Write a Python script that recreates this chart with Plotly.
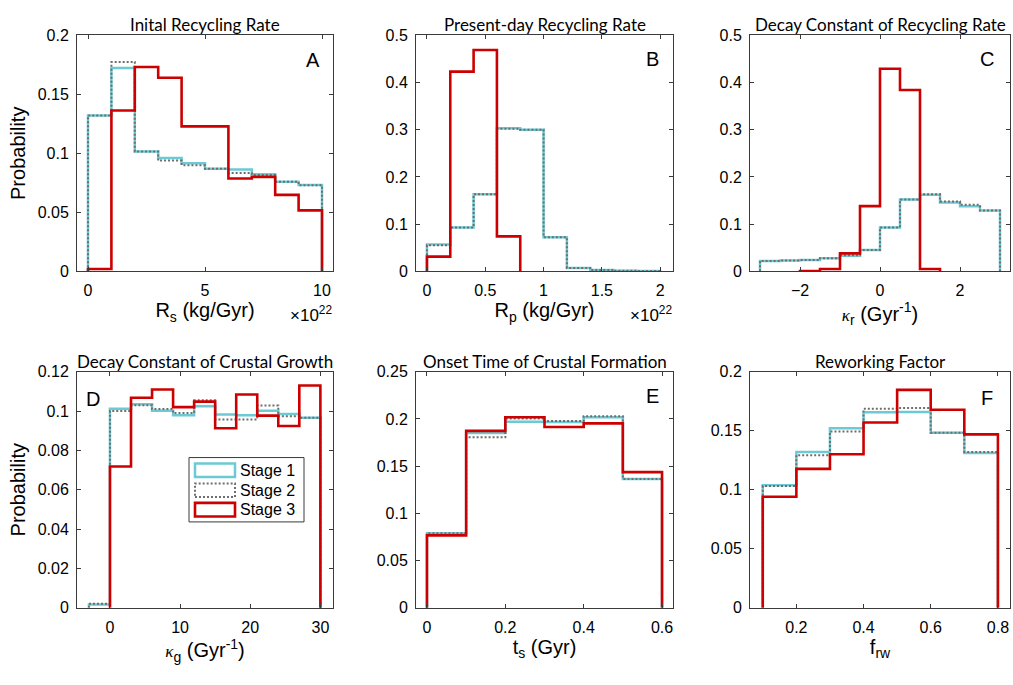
import plotly.graph_objects as go

W, H = 1013, 685

stage_names = ["Stage 1", "Stage 2", "Stage 3"]
stage_colors = ["#6BCAD4", "#6E6E6E", "#CC0000"]

panel_letters = ["A", "B", "C", "D", "E", "F"]
panel_titles = [
    "Inital Recycling Rate",
    "Present-day Recycling Rate",
    "Decay Constant of Recycling Rate",
    "Decay Constant of Crustal Growth",
    "Onset Time of Crustal Formation",
    "Reworking Factor",
]
KAPPA = '<span style="font-family:Liberation Serif;font-size:17px"><i>κ</i></span>'
x_titles = [
    "R<sub>s</sub> (kg/Gyr)",
    "R<sub>p</sub> (kg/Gyr)",
    KAPPA + "<sub>r</sub> (Gyr<sup>-1</sup>)",
    KAPPA + "<sub>g</sub> (Gyr<sup>-1</sup>)",
    "t<sub>s</sub> (Gyr)",
    "f<sub>rw</sub>",
]
y_title = "Probability"
exp_label = "×10<sup>22</sup>"

# ---- Panel A: initial recycling rate (bin edges in units of 1e22 kg/Gyr)
a_edges = [0, 1, 2, 3, 4, 5, 6, 7, 8, 9, 10]
a_s1 = [0.132, 0.1724, 0.1015, 0.096, 0.0916, 0.0869, 0.0863, 0.0822, 0.0759, 0.0731]
a_s2 = [0.132, 0.1774, 0.1015, 0.0938, 0.0899, 0.087, 0.0833, 0.0817, 0.076, 0.073]
a_s3 = [0.002, 0.1363, 0.1732, 0.164, 0.1228, 0.1228, 0.0786, 0.080, 0.0648, 0.0516]

# ---- Panel B: present-day recycling rate (units of 1e22 kg/Gyr)
b_edges = [0, 0.2, 0.4, 0.6, 0.8, 1.0, 1.2, 1.4, 1.6, 1.8, 2.0]
b_s1 = [0.057, 0.093, 0.163, 0.303, 0.300, 0.072, 0.007, 0.003, 0.001, 0.0005]
b_s2 = [0.055, 0.093, 0.163, 0.302, 0.300, 0.072, 0.007, 0.003, 0.001, 0.0005]
b_edges3 = [0, 0.2, 0.4, 0.6, 0.8]
b_s3 = [0.031, 0.423, 0.469, 0.074]

# ---- Panel C: decay constant of recycling rate (1/Gyr)
c_edges = [-3, -2.5, -2, -1.5, -1, -0.5, 0, 0.5, 1, 1.5, 2, 2.5, 3]
c_s1 = [0.022, 0.023, 0.024, 0.0276, 0.033, 0.045, 0.093, 0.152, 0.162, 0.146, 0.138, 0.129]
c_s2 = [0.022, 0.023, 0.024, 0.0276, 0.034, 0.045, 0.093, 0.152, 0.163, 0.148, 0.141, 0.129]
c_edges3 = [-2, -1.5, -1, -0.5, 0, 0.5, 1, 1.5]
c_s3 = [0.0005, 0.005, 0.038, 0.138, 0.429, 0.384, 0.005]

# ---- Panel D: decay constant of crustal growth (1/Gyr)
d_edges = [-3, 0, 3, 6, 9, 12, 15, 18, 21, 24, 27, 30]
d_s1 = [0.0017, 0.1012, 0.1035, 0.1002, 0.0979, 0.1024, 0.0982, 0.0979, 0.1002, 0.0985, 0.0966]
d_s2 = [0.002, 0.1000, 0.1030, 0.1010, 0.0990, 0.1055, 0.0957, 0.0957, 0.1028, 0.0974, 0.0966]
d_edges3 = [0, 3, 6, 9, 12, 15, 18, 21, 24, 27, 30]
d_s3 = [0.0718, 0.1068, 0.1110, 0.1020, 0.1048, 0.0913, 0.1084, 0.0977, 0.0924, 0.1130]

# ---- Panel E: onset time of crustal formation (Gyr)
e_edges = [0, 0.1, 0.2, 0.3, 0.4, 0.5, 0.6]
e_s1 = [0.079, 0.185, 0.197, 0.1967, 0.2018, 0.1365]
e_s2 = [0.079, 0.1805, 0.2005, 0.1977, 0.2029, 0.1365]
e_s3 = [0.0767, 0.1874, 0.2018, 0.1915, 0.1953, 0.1437]

# ---- Panel F: reworking factor
f_edges = [0.1, 0.2, 0.3, 0.4, 0.5, 0.6, 0.7, 0.8]
f_s1 = [0.1037, 0.1320, 0.1521, 0.1656, 0.1659, 0.1483, 0.1312]
f_s2 = [0.1032, 0.1293, 0.1494, 0.1686, 0.1692, 0.1483, 0.1320]
f_s3 = [0.0941, 0.1177, 0.1301, 0.1570, 0.1846, 0.1678, 0.1469]

panels = [
    [(a_edges, a_s1), (a_edges, a_s2), (a_edges, a_s3)],
    [(b_edges, b_s1), (b_edges, b_s2), (b_edges3, b_s3)],
    [(c_edges, c_s1), (c_edges, c_s2), (c_edges3, c_s3)],
    [(d_edges, d_s1), (d_edges, d_s2), (d_edges3, d_s3)],
    [(e_edges, e_s1), (e_edges, e_s2), (e_edges, e_s3)],
    [(f_edges, f_s1), (f_edges, f_s2), (f_edges, f_s3)],
]

x_ranges = [[-0.47, 10.47], [-0.094, 2.11], [-3.25, 3.25], [-4.7, 31.8], [-0.028, 0.628], [0.062, 0.836]]
x_ticks = [[0, 5, 10], [0, 0.5, 1, 1.5, 2], [-2, 0, 2], [0, 10, 20, 30], [0, 0.2, 0.4, 0.6], [0.2, 0.4, 0.6, 0.8]]
y_ranges = [[0, 0.2], [0, 0.5], [0, 0.5], [0, 0.12], [0, 0.25], [0, 0.2]]
y_ticks = [
    [0, 0.05, 0.1, 0.15, 0.2],
    [0, 0.1, 0.2, 0.3, 0.4, 0.5],
    [0, 0.1, 0.2, 0.3, 0.4, 0.5],
    [0, 0.02, 0.04, 0.06, 0.08, 0.1, 0.12],
    [0, 0.05, 0.1, 0.15, 0.2, 0.25],
    [0, 0.05, 0.1, 0.15, 0.2],
]

# layout geometry in pixels
col_px = [(77, 333), (416, 673), (750, 1010)]
row_px = [(28, 270), (373, 615)]


def px_x(x):
    return x / W


def px_y(y):
    return 1 - y / H


def stairs(edges, vals):
    xs = [edges[0]] + list(edges[:-1]) + [edges[-1]]
    ys = [0] + list(vals) + [0]
    return xs, ys


line_styles = [
    dict(color=stage_colors[0], width=2.5),
    dict(color=stage_colors[1], width=2, dash="2px,2px"),
    dict(color=stage_colors[2], width=2.6),
]

SANS = "Liberation Sans, Arial, sans-serif"
fig = go.Figure()
TICKFONT = dict(family=SANS, size=16, color="black")
annotations = []
shapes = []

for i, series in enumerate(panels):
    r, c = divmod(i, 3)
    ax = "" if i == 0 else str(i + 1)
    for k, (edges, vals) in enumerate(series):
        xs, ys = stairs(edges, vals)
        fig.add_trace(go.Scatter(
            x=xs, y=ys, mode="lines", line=dict(shape="hv", **line_styles[k]),
            name=stage_names[k], showlegend=False, xaxis="x" + ax, yaxis="y" + ax,
            hoverinfo="skip"))
    x0, x1 = col_px[c]
    y0, y1 = row_px[r]
    common = dict(showline=True, linecolor="#3a3a3a", linewidth=1, mirror="ticks",
                  ticks="inside", ticklen=4, tickcolor="#3a3a3a", tickwidth=1,
                  showgrid=False, zeroline=False, tickfont=TICKFONT)
    fig.layout["xaxis" + ax] = dict(
        domain=[px_x(x0), px_x(x1)], anchor="y" + ax, range=x_ranges[i],
        tickvals=x_ticks[i], ticklabelstandoff=5,
        title=dict(text=x_titles[i], font=dict(family=SANS, size=20, color="black"), standoff=3),
        **common)
    ydict = dict(
        domain=[px_y(y1), px_y(y0)], anchor="x" + ax, range=y_ranges[i],
        tickvals=y_ticks[i], ticklabelstandoff=4, **common)
    if c == 0:
        ydict["title"] = dict(text=y_title, font=dict(family=SANS, size=20, color="black"), standoff=6)
    fig.layout["yaxis" + ax] = ydict
    # panel title
    annotations.append(dict(
        text=panel_titles[i], x=px_x((x0 + x1) / 2), y=px_y(y0 - 11), xref="paper", yref="paper",
        xanchor="center", yanchor="middle", showarrow=False,
        font=dict(family="Lato, Open Sans, sans-serif", size=17, color="black")))

letter_pos = [(313, 53), (652, 52), (987, 52), (93, 401), (652, 398), (987, 400)]
for i, (lx, ly) in enumerate(letter_pos):
    annotations.append(dict(
        text=panel_letters[i], x=px_x(lx), y=px_y(ly), xref="paper", yref="paper",
        xanchor="center", yanchor="middle", showarrow=False,
        font=dict(family=SANS, size=20, color="black")))

for cx in [col_px[0][1], col_px[1][1]]:
    annotations.append(dict(
        text=exp_label, x=px_x(cx + 1), y=px_y(314), xref="paper", yref="paper",
        xanchor="right", yanchor="middle", showarrow=False,
        font=dict(family=SANS, size=17, color="black")))

# legend box (panel D), drawn as in the original with outlined rectangles
shapes.append(dict(type="rect", xref="paper", yref="paper",
                   x0=px_x(189), x1=px_x(304), y0=px_y(527), y1=px_y(461),
                   line=dict(color="#3a3a3a", width=1), fillcolor="white", layer="above"))
row_y = [474, 494.5, 514.5]
for k in range(3):
    shapes.append(dict(type="rect", xref="paper", yref="paper",
                       x0=px_x(195), x1=px_x(235), y0=px_y(row_y[k] + 7), y1=px_y(row_y[k] - 7),
                       line=line_styles[k], fillcolor="rgba(0,0,0,0)", layer="above"))
    annotations.append(dict(
        text=stage_names[k], x=px_x(238), y=px_y(row_y[k]), xref="paper", yref="paper",
        xanchor="left", yanchor="middle", showarrow=False,
        font=dict(family=SANS, size=16, color="black")))

fig.update_layout(
    width=W, height=H, margin=dict(l=0, r=0, t=0, b=0),
    paper_bgcolor="white", plot_bgcolor="white",
    annotations=annotations, shapes=shapes, showlegend=False,
)

fig.write_html("out.html")
